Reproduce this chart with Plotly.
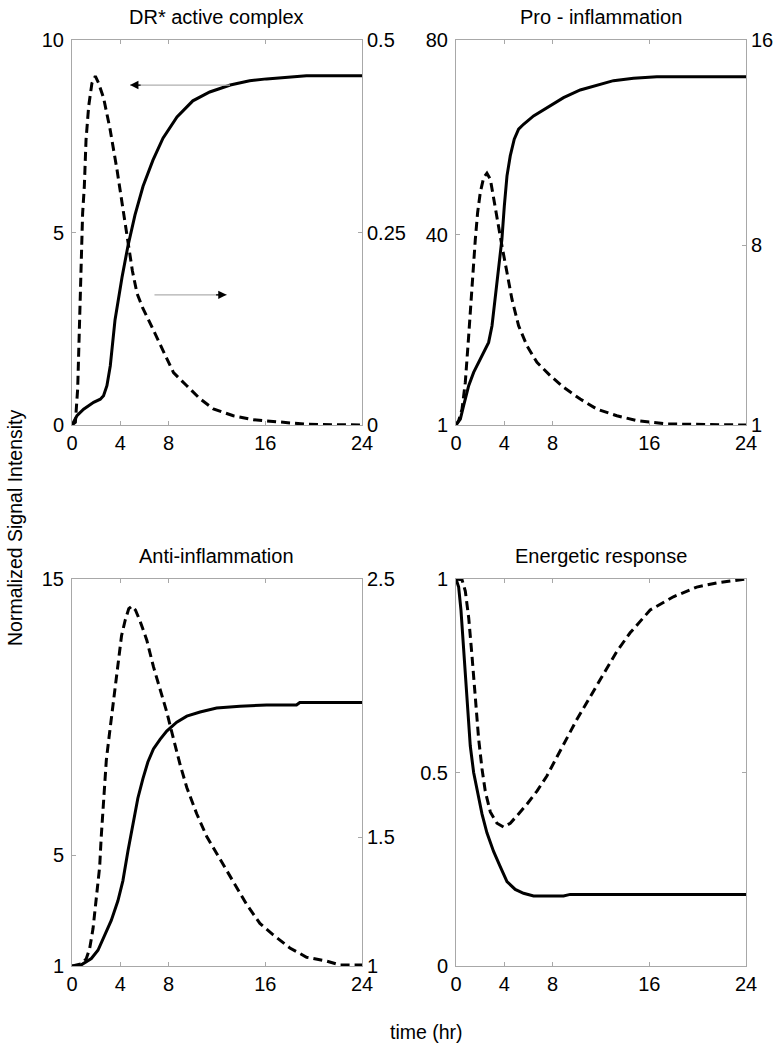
import plotly.graph_objects as go

# ---------------- data (time in hours) ----------------
dr_solid_t = [0, 0.41, 0.96, 1.79, 2.34, 2.61, 2.89, 3.17, 3.56, 4.14, 4.63, 5.21, 5.88, 6.70, 7.53, 8.69, 10.0,
              11.4, 13.1, 14.7, 16.10, 17.48, 19.4, 24]
dr_solid_v = [0, 0.24, 0.41, 0.59, 0.67, 0.76, 1.02, 1.54, 2.73, 3.84, 4.65, 5.45, 6.20, 6.88, 7.45, 8.0, 8.42,
              8.65, 8.83, 8.94, 8.99, 9.03, 9.07, 9.07]
dr_dash_t = [0, 0.28, 0.47, 0.61, 0.69, 0.77, 0.88, 1.02, 1.16, 1.38, 1.65, 1.93, 2.20, 2.61, 2.89, 3.14, 3.72,
             4.22, 4.63, 5.0, 5.38, 5.85, 6.29, 7.02, 7.57, 8.40, 9.50, 10.60, 11.70, 13.35, 15.0, 17.48, 19.4, 24]
dr_dash_v = [0, 0.0035, 0.047, 0.120, 0.164, 0.228, 0.275, 0.310, 0.370, 0.414, 0.444, 0.453, 0.444, 0.425, 0.405,
             0.385, 0.332, 0.280, 0.235, 0.200, 0.171, 0.152, 0.138, 0.114, 0.094, 0.068, 0.051, 0.034, 0.021,
             0.012, 0.0069, 0.0035, 0.0009, 0]

pro_solid_t = [0, 0.36, 0.63, 1.05, 1.46, 1.87, 2.29, 2.70, 2.98, 3.17, 3.39, 3.61, 3.80, 4.00, 4.22, 4.49, 4.82,
               5.18, 5.59, 6.42, 7.52, 8.90, 10.28, 11.66, 13.03, 14.69, 16.62, 24]
pro_solid_v = [1, 2.23, 4.96, 9.06, 11.80, 13.85, 15.90, 17.95, 21.37, 25.47, 29.57, 35.03, 39.13, 45.97, 52.12,
               56.22, 59.64, 61.69, 62.71, 64.42, 66.13, 68.18, 69.75, 70.71, 71.66, 72.14, 72.48, 72.48]
pro_dash_t = [0, 0.22, 0.50, 0.77, 1.05, 1.32, 1.60, 1.79, 2.01, 2.29, 2.56, 2.84, 3.11, 3.39, 3.80, 4.22, 4.63,
              5.18, 5.87, 6.70, 7.80, 8.90, 10.28, 11.66, 13.31, 14.96, 17.44, 24]
pro_dash_v = [1, 1.17, 1.62, 2.66, 4.48, 6.42, 8.24, 9.28, 10.06, 10.64, 10.81, 10.58, 9.80, 9.02, 7.98, 6.94,
              5.90, 4.87, 4.09, 3.44, 2.92, 2.47, 2.01, 1.62, 1.36, 1.17, 1.04, 1]

anti_solid_t = [0, 0.5, 0.77, 1.60, 2.15, 2.70, 3.25, 3.80, 4.21, 4.63, 5.04, 5.45, 5.87, 6.28, 6.74, 7.29, 7.84,
                8.67, 9.50, 10.60, 11.97, 13.90, 16.10, 18.58, 18.85, 24]
anti_solid_v = [1, 1.0, 1.04, 1.27, 1.57, 2.11, 2.65, 3.36, 4.08, 5.16, 6.11, 7.07, 7.78, 8.38, 8.85, 9.2, 9.5,
                9.82, 10.04, 10.19, 10.33, 10.40, 10.44, 10.44, 10.53, 10.53]
anti_dash_t = [0, 0.77, 1.18, 1.46, 1.74, 2.01, 2.29, 2.42, 2.56, 2.70, 2.84, 3.1, 3.35, 3.6, 3.85, 4.1, 4.4, 4.7,
               4.95, 5.25, 5.64, 6.19, 6.74, 7.29, 7.84, 8.39, 8.95, 9.50, 10.32, 11.15, 12.25, 13.35, 14.45,
               15.55, 16.65, 18.03, 19.41, 21.06, 22.16, 24]
anti_dash_v = [1, 1.008, 1.028, 1.067, 1.145, 1.256, 1.385, 1.501, 1.605, 1.721, 1.798, 1.90, 2.0, 2.1, 2.2, 2.28,
               2.34, 2.385, 2.395, 2.38, 2.336, 2.263, 2.160, 2.073, 1.985, 1.882, 1.780, 1.692, 1.590, 1.502,
               1.414, 1.326, 1.239, 1.165, 1.121, 1.070, 1.034, 1.019, 1.004, 1.004]

en_solid_t = [0, 0.22, 0.41, 0.58, 0.77, 0.96, 1.18, 1.46, 1.79, 2.15, 2.56, 3.11, 3.66, 4.22, 4.90, 5.59, 6.42,
              7.80, 8.90, 9.45, 24]
en_solid_v = [1.0, 0.979, 0.920, 0.842, 0.744, 0.647, 0.569, 0.500, 0.452, 0.393, 0.344, 0.296, 0.257, 0.218,
              0.198, 0.188, 0.181, 0.180, 0.181, 0.185, 0.185]
en_dash_t = [0, 0.50, 0.77, 1.05, 1.32, 1.60, 1.87, 2.15, 2.42, 2.84, 3.39, 3.94, 4.49, 5.04, 5.87, 6.70, 7.52,
             8.35, 9.18, 10.00, 11.11, 12.21, 13.31, 14.41, 16.07, 17.99, 19.92, 21.58, 24]
en_dash_v = [1.0, 0.998, 0.969, 0.900, 0.803, 0.696, 0.588, 0.510, 0.452, 0.398, 0.369, 0.359, 0.369, 0.388,
             0.418, 0.452, 0.491, 0.540, 0.588, 0.637, 0.696, 0.754, 0.813, 0.861, 0.920, 0.954, 0.979, 0.990, 1.0]

panel_titles = ["DR* active complex", "Pro - inflammation", "Anti-inflammation", "Energetic response"]
x_ticks = [0, 4, 8, 16, 24]
left_ticks = [[0, 5, 10], [1, 40, 80], [1, 5, 15], [0, 0.5, 1]]
right_ticks = [[0, 0.25, 0.5], [1, 8, 16], [1, 1.5, 2.5]]
left_ranges = [[0, 10], [1, 80], [1, 15], [0, 1]]
right_ranges = [[0, 0.5], [1, 16], [1, 2.5]]

# ---------------- styling ----------------
FONT = "Arial, Liberation Sans, sans-serif"
AX = "#a8a8a8"
W, H = 777, 1050
xdoms = [[72 / W, 362 / W], [456 / W, 746 / W]]
ydoms = [[1 - 425 / H, 1 - 40 / H], [1 - 966 / H, 1 - 579 / H]]

solid = dict(color="black", width=3)
dashed = dict(color="black", width=3, dash="9px,5px")

fig = go.Figure()

series = [
    (dr_solid_t, dr_solid_v, "x", "y", solid),
    (dr_dash_t, dr_dash_v, "x", "y2", dashed),
    (pro_solid_t, pro_solid_v, "x2", "y3", solid),
    (pro_dash_t, pro_dash_v, "x2", "y4", dashed),
    (anti_solid_t, anti_solid_v, "x3", "y5", solid),
    (anti_dash_t, anti_dash_v, "x3", "y6", dashed),
    (en_solid_t, en_solid_v, "x4", "y7", solid),
    (en_dash_t, en_dash_v, "x4", "y7", dashed),
]
for xs, ys, xa, ya, ln in series:
    fig.add_trace(go.Scatter(x=xs, y=ys, xaxis=xa, yaxis=ya, mode="lines", line=ln,
                             showlegend=False, hoverinfo="skip", cliponaxis=False))

common = dict(showline=True, linecolor=AX, linewidth=1, ticks="inside", ticklen=4, tickcolor=AX,
              showgrid=False, zeroline=False, automargin=False,
              tickfont=dict(family=FONT, size=20, color="black"))

layout = dict(width=W, height=H, margin=dict(l=0, r=0, t=0, b=0, autoexpand=False),
              paper_bgcolor="white", plot_bgcolor="white", showlegend=False)

panel_pos = [(0, 0), (1, 0), (0, 1), (1, 1)]
for i, (cx, cy) in enumerate(panel_pos):
    xname = "xaxis" if i == 0 else f"xaxis{i + 1}"
    yl = 2 * i + 1
    ylname = "yaxis" if yl == 1 else f"yaxis{yl}"
    layout[xname] = dict(domain=xdoms[cx], range=[0, 24], tickvals=x_ticks, mirror="ticks",
                         anchor="y" if yl == 1 else f"y{yl}", ticklabelstandoff=0, **common)
    layout[ylname] = dict(domain=ydoms[cy], range=left_ranges[i], tickvals=left_ticks[i],
                          anchor="x" if i == 0 else f"x{i + 1}", ticklabelstandoff=3,
                          mirror="ticks" if i == 3 else False, **common)
    if i < 3:
        layout[f"yaxis{yl + 1}"] = dict(domain=ydoms[cy], range=right_ranges[i], tickvals=right_ticks[i],
                                        side="right", overlaying="y" if yl == 1 else f"y{yl}",
                                        anchor="x" if i == 0 else f"x{i + 1}", ticklabelstandoff=0,
                                        **common)

fig.update_layout(**layout)

for i, (cx, cy) in enumerate(panel_pos):
    fig.add_annotation(text=panel_titles[i], xref="paper", yref="paper",
                       x=(xdoms[cx][0] + xdoms[cx][1]) / 2, y=ydoms[cy][1] + 23 / H,
                       xanchor="center", yanchor="middle", showarrow=False,
                       font=dict(family=FONT, size=20, color="black"))

fig.add_annotation(text="Normalized Signal Intensity", xref="paper", yref="paper", x=15 / W, y=1 - 528 / H,
                   textangle=-90, xanchor="center", yanchor="middle", showarrow=False,
                   font=dict(family=FONT, size=19.5, color="black"))
fig.add_annotation(text="time (hr)", xref="paper", yref="paper", x=426 / W, y=1 - 1032 / H,
                   xanchor="center", yanchor="middle", showarrow=False,
                   font=dict(family=FONT, size=19.5, color="black"))

# arrows in the first panel (gray shaft + black head)
arrows = [((13.2, 8.83), (4.8, 8.83)), ((6.7, 3.38), (12.8, 3.38))]
for (x0, y0), (x1, y1) in arrows:
    fig.add_annotation(x=x1, y=y1, ax=x0, ay=y0, xref="x", yref="y", axref="x", ayref="y",
                       text="", showarrow=True, arrowhead=0, arrowwidth=1.2, arrowcolor="#b0b0b0")
    sgn = 1 if x1 > x0 else -1
    fig.add_annotation(x=x1, y=y1, ax=x1 - sgn * 1.0, ay=y1, xref="x", yref="y", axref="x", ayref="y",
                       text="", showarrow=True, arrowhead=2, arrowsize=1.3, arrowwidth=1.3,
                       arrowcolor="black")

fig.write_html("out.html", config={"displayModeBar": False, "staticPlot": True},
               post_script="document.body.style.margin='0';document.body.style.overflow='hidden';")
